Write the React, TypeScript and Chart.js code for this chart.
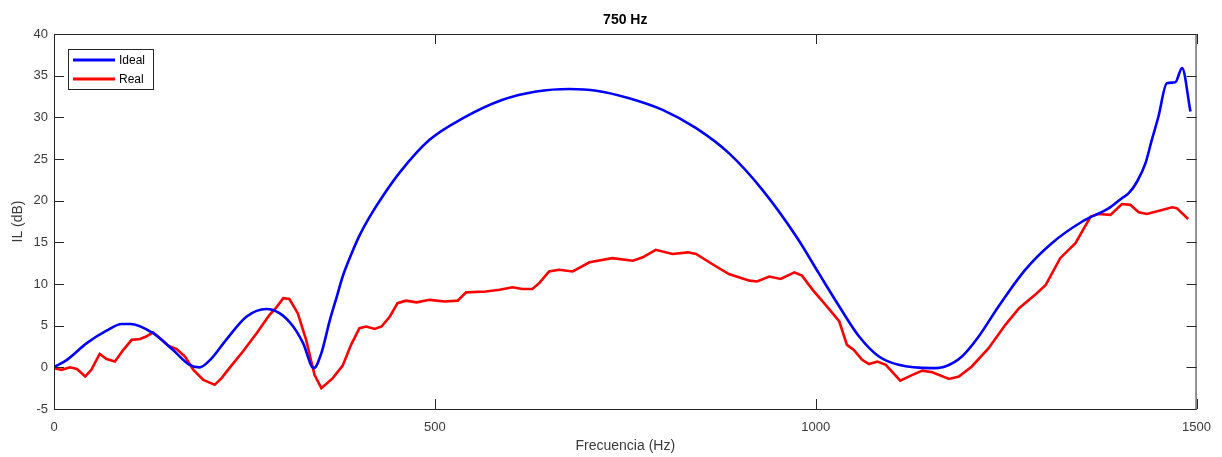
import React, { useEffect, useRef } from "react";
import { Chart, registerables } from "chart.js";

Chart.register(...registerables);

const chartTitle = "750 Hz";
const xAxisTitle = "Frecuencia (Hz)";
const yAxisTitle = "IL (dB)";
const seriesNames = ["Ideal", "Real"];
const xTicks = [0, 500, 1000, 1500];
const yTicks = [-5, 0, 5, 10, 15, 20, 25, 30, 35, 40];

const freqIdeal = [0, 17, 43, 69, 89, 100, 130, 156, 178, 191, 205, 226, 253, 279, 296, 314, 327, 341, 351, 362, 371, 379, 390, 401, 414, 432, 454, 493, 537, 589, 633, 677, 712, 755, 799, 843, 886, 930, 976, 1004, 1031, 1057, 1083, 1109, 1153, 1170, 1192, 1214, 1240, 1275, 1310, 1350, 1385, 1402, 1411, 1422, 1433, 1441, 1450, 1461, 1472, 1481, 1492];
const ilIdeal = [0, 0.9, 2.9, 4.4, 5.2, 5.2, 4.1, 2.1, 0.3, 0.0, 0.9, 3.3, 6.1, 7.0, 6.5, 4.9, 2.9, -0.1, 1.7, 5.6, 8.4, 10.9, 13.5, 15.8, 18.0, 20.6, 23.4, 27.3, 29.9, 32.1, 33.1, 33.4, 33.2, 32.3, 30.9, 28.7, 25.7, 21.3, 15.5, 11.3, 7.3, 3.7, 1.3, 0.3, -0.1, 0.1, 1.3, 3.7, 7.3, 11.7, 14.9, 17.5, 19.1, 20.3, 20.9, 22.3, 24.5, 27.2, 30.1, 34.1, 34.2, 35.9, 30.7];

const freqReal = [0, 10, 21, 30, 41, 49, 60, 69, 80, 91, 102, 113, 121, 130, 139, 150, 161, 172, 183, 196, 211, 220, 231, 248, 266, 283, 292, 301, 309, 320, 331, 342, 351, 366, 379, 390, 401, 410, 421, 430, 441, 451, 462, 476, 493, 513, 530, 541, 567, 585, 602, 615, 628, 637, 650, 663, 681, 703, 733, 760, 773, 790, 812, 832, 843, 864, 886, 913, 923, 939, 954, 972, 982, 996, 1011, 1022, 1031, 1041, 1050, 1061, 1070, 1081, 1092, 1111, 1127, 1140, 1153, 1175, 1188, 1205, 1227, 1249, 1267, 1288, 1302, 1321, 1341, 1361, 1371, 1387, 1402, 1413, 1424, 1435, 1468, 1474, 1489];
const ilReal = [-0.1, -0.3, 0, -0.2, -1.1, -0.3, 1.6, 1.0, 0.7, 2.1, 3.3, 3.4, 3.7, 4.2, 3.5, 2.6, 2.2, 1.3, -0.3, -1.5, -2.1, -1.3, 0, 1.9, 4.1, 6.3, 7.2, 8.3, 8.2, 6.5, 3.3, -0.9, -2.5, -1.3, 0.2, 2.7, 4.7, 4.9, 4.6, 4.9, 6.1, 7.7, 8.0, 7.8, 8.1, 7.9, 8.0, 9.0, 9.1, 9.3, 9.6, 9.4, 9.4, 10.1, 11.5, 11.7, 11.5, 12.6, 13.1, 12.8, 13.2, 14.1, 13.6, 13.8, 13.6, 12.4, 11.2, 10.4, 10.3, 10.9, 10.6, 11.4, 11.0, 9.3, 7.7, 6.5, 5.5, 2.7, 2.1, 0.9, 0.4, 0.7, 0.3, -1.6, -0.9, -0.4, -0.6, -1.4, -1.1, 0.1, 2.3, 5.1, 7.1, 8.7, 9.9, 13.1, 14.9, 18.1, 18.4, 18.3, 19.6, 19.5, 18.6, 18.4, 19.2, 19.1, 17.8];

const FONT = "'Liberation Sans', Arial, Helvetica, sans-serif";
const AXIS_COLOR = "#262626";
const TEXT_COLOR = "#3a3a3a";
const seriesColors = ["#0000ff", "#ff0000"];

const matlabPlugin = {
  id: "matlabDecor",
  afterDraw(chart: any) {
    const { ctx, chartArea } = chart;
    const { left, right, top, bottom } = chartArea;
    const xs = chart.scales.x;
    const ys = chart.scales.y;
    ctx.save();
    ctx.strokeStyle = AXIS_COLOR;
    ctx.lineWidth = 1;
    ctx.strokeRect(left + 0.5, top + 0.5, right - left - 1, bottom - top);
    const tl = 10;
    ctx.beginPath();
    xTicks.forEach((v) => {
      const px = Math.round(xs.getPixelForValue(v)) + 0.5;
      ctx.moveTo(px, bottom);
      ctx.lineTo(px, bottom - tl);
      ctx.moveTo(px, top);
      ctx.lineTo(px, top + tl);
    });
    yTicks.forEach((v) => {
      const py = Math.round(ys.getPixelForValue(v)) + 0.5;
      ctx.moveTo(left, py);
      ctx.lineTo(left + tl, py);
      ctx.moveTo(right, py);
      ctx.lineTo(right - tl, py);
    });
    ctx.stroke();

    ctx.fillStyle = "#000";
    ctx.font = `bold 14px ${FONT}`;
    ctx.textAlign = "center";
    ctx.textBaseline = "middle";
    ctx.fillText(chartTitle, (left + right) / 2, 20);

    ctx.fillStyle = TEXT_COLOR;
    ctx.font = `14px ${FONT}`;
    ctx.fillText(xAxisTitle, (left + right) / 2, 446);
    ctx.save();
    ctx.translate(18, (top + bottom) / 2);
    ctx.rotate(-Math.PI / 2);
    ctx.fillText(yAxisTitle, 0, 0);
    ctx.restore();

    const lx = 68, ly = 49, lw = 85, lh = 40;
    ctx.fillStyle = "#fff";
    ctx.fillRect(lx, ly, lw, lh);
    ctx.strokeStyle = AXIS_COLOR;
    ctx.lineWidth = 1;
    ctx.strokeRect(lx + 0.5, ly + 0.5, lw, lh);
    ctx.font = `12px ${FONT}`;
    ctx.textAlign = "left";
    seriesNames.forEach((name, i) => {
      const yy = ly + 11 + i * 19;
      ctx.strokeStyle = seriesColors[i];
      ctx.lineWidth = 3;
      ctx.beginPath();
      ctx.moveTo(lx + 5, yy);
      ctx.lineTo(lx + 47, yy);
      ctx.stroke();
      ctx.fillStyle = "#000";
      ctx.fillText(name, lx + 51, yy + 1);
    });
    ctx.restore();
  },
};

export default function App() {
  const ref = useRef<HTMLCanvasElement | null>(null);
  useEffect(() => {
    if (!ref.current) return;
    const chart = new Chart(ref.current, {
      type: "scatter",
      data: {
        datasets: [
          {
            label: seriesNames[0],
            data: freqIdeal.map((f, i) => ({ x: f, y: ilIdeal[i] })),
            borderColor: seriesColors[0],
            backgroundColor: seriesColors[0],
            borderWidth: 2.6,
            showLine: true,
            pointRadius: 0,
            cubicInterpolationMode: "monotone",
          },
          {
            label: seriesNames[1],
            data: freqReal.map((f, i) => ({ x: f, y: ilReal[i] })),
            borderColor: seriesColors[1],
            backgroundColor: seriesColors[1],
            borderWidth: 2.6,
            showLine: true,
            pointRadius: 0,
            tension: 0,
          },
        ],
      },
      options: {
        animation: false,
        responsive: true,
        maintainAspectRatio: false,
        layout: { padding: { top: 34, right: 24, left: 0, bottom: 0 } },
        plugins: {
          legend: { display: false },
          tooltip: { enabled: false },
          title: { display: false },
        },
        scales: {
          x: {
            type: "linear",
            min: 0,
            max: 1500,
            afterBuildTicks: (s: any) => {
              s.ticks = xTicks.map((v) => ({ value: v }));
            },
            afterFit: (s: any) => {
              s.height = 48;
            },
            ticks: {
              font: { family: FONT, size: 13 },
              color: TEXT_COLOR,
              padding: 11,
              maxRotation: 0,
              callback: (v: any) => String(v),
            },
            grid: { display: false, drawTicks: false },
            border: { display: false },
          },
          y: {
            type: "linear",
            min: -5,
            max: 40,
            afterBuildTicks: (s: any) => {
              s.ticks = yTicks.map((v) => ({ value: v }));
            },
            afterFit: (s: any) => {
              s.width = 54;
            },
            ticks: {
              font: { family: FONT, size: 13 },
              color: TEXT_COLOR,
              padding: 6,
              callback: (v: any) => String(v),
            },
            grid: { display: false, drawTicks: false },
            border: { display: false },
          },
        },
      },
      plugins: [matlabPlugin],
    } as any);
    return () => chart.destroy();
  }, []);
  return (
    <div style={{ position: "fixed", left: 0, top: 0, width: 1222, height: 457, background: "#fff" }}>
      <canvas ref={ref} />
    </div>
  );
}
